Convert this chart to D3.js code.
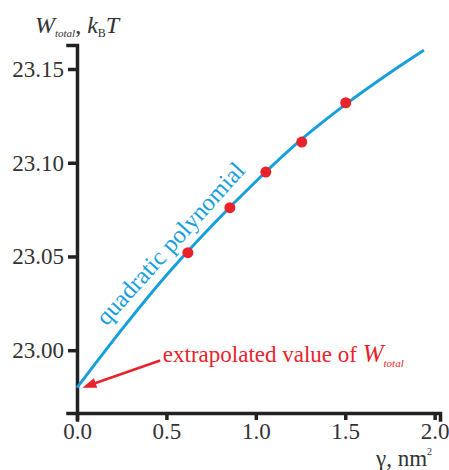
<!DOCTYPE html>
<html>
<head>
<meta charset="utf-8">
<script src="https://cdn.jsdelivr.net/npm/d3@7"></script>
<style>
  body { margin: 0; background: #fff; }
  svg text { font-family: "Liberation Serif", "Times New Roman", serif; }
</style>
</head>
<body>
<div id="chartArea"></div>
<script>
// fitted curve (gamma in nm^2, W in kBT)
const curveX = [0, 0.25, 0.5, 0.75, 1.0, 1.25, 1.5, 1.75, 1.94];
const curveY = [22.980, 23.011, 23.040, 23.066, 23.090, 23.112, 23.131, 23.148, 23.160];

// simulated points
const pointX = [0.62, 0.855, 1.056, 1.257, 1.503];
const pointY = [23.052, 23.076, 23.095, 23.111, 23.132];

const xTicks = [0, 0.5, 1.0, 1.5, 2.0];
const yTicks = [23.00, 23.05, 23.10, 23.15];

const width = 449;
const height = 470;
const blue = "#179fdd";
const red = "#e8232b";

const svg = d3.select("#chartArea")
  .append("svg")
  .attr("width", width)
  .attr("height", height);

const xScale = d3.scaleLinear().domain([0, 2.03]).range([77, 440]);
const yScale = d3.scaleLinear().domain([22.9665, 23.1628]).range([413, 45]);

// Y-axis
const yAxis = svg.append("g")
  .attr("transform", `translate(${xScale(0)},0)`)
  .call(d3.axisLeft(yScale).tickValues(yTicks).tickFormat(d3.format(".2f")).tickSizeOuter(0).tickSize(9).tickPadding(4));

// X-axis
const xAxis = svg.append("g")
  .attr("transform", `translate(0,${yScale.range()[0]})`)
  .call(d3.axisBottom(xScale).tickValues(xTicks).tickFormat(d3.format(".1f")).tickSizeOuter(0).tickSize(7).tickPadding(3));

[yAxis, xAxis].forEach((g) => {
  g.attr("font-family", null).attr("font-size", null);
  g.select(".domain").attr("stroke", "#222").attr("stroke-width", 3.5).attr("stroke-linecap", "square");
  g.selectAll(".tick line").attr("stroke", "#222").attr("stroke-width", 3.5);
  g.selectAll(".tick text")
    .attr("fill", "#333")
    .style("font-family", "'Liberation Serif', serif")
    .style("font-size", "23px");
});

// curve
const curveData = curveX.map((x, i) => ({ x, y: curveY[i] }));
const line = d3.line()
  .x((d) => xScale(d.x))
  .y((d) => yScale(d.y))
  .curve(d3.curveMonotoneX);

svg.append("path")
  .datum(curveData)
  .attr("fill", "none")
  .attr("stroke", blue)
  .attr("stroke-width", 3)
  .attr("d", line);

// points
svg.selectAll(".pt")
  .data(pointX.map((x, i) => ({ x, y: pointY[i] })))
  .join("circle")
  .attr("class", "pt")
  .attr("cx", (d) => xScale(d.x))
  .attr("cy", (d) => yScale(d.y))
  .attr("r", 5.5)
  .attr("fill", red);

// curve label
svg.append("text")
  .attr("transform", `translate(${xScale(0.52)},${yScale(23.057)}) rotate(-48)`)
  .attr("text-anchor", "middle")
  .attr("dominant-baseline", "central")
  .attr("fill", blue)
  .style("font-size", "24.5px")
  .text("quadratic polynomial");

// arrow to extrapolated value
const tipX = xScale(0.03);
const tipY = yScale(curveY[0]);
const tailX = xScale(0.465);
const tailY = yScale(22.9945);
const ang = Math.atan2(tipY - tailY, tipX - tailX);
svg.append("line")
  .attr("x1", tailX).attr("y1", tailY)
  .attr("x2", tipX - 8 * Math.cos(ang)).attr("y2", tipY - 8 * Math.sin(ang))
  .attr("stroke", red)
  .attr("stroke-width", 2.5);
svg.append("path")
  .attr("d", "M0,0 L-14,-5 L-14,5 Z")
  .attr("transform", `translate(${tipX},${tipY}) rotate(${ang * 180 / Math.PI})`)
  .attr("fill", red);

const note = svg.append("text")
  .attr("x", xScale(0.48))
  .attr("y", yScale(22.9936))
  .attr("fill", red)
  .style("font-size", "23px");
note.append("tspan").text("extrapolated value of ");
note.append("tspan").attr("font-style", "italic").style("font-size", "25px").text("W");
note.append("tspan").attr("font-style", "italic").style("font-size", "11px").attr("dy", 5).text("total");

// axis titles
const yTitle = svg.append("text")
  .attr("x", 35)
  .attr("y", 33)
  .attr("fill", "#333")
  .style("font-size", "24px");
yTitle.append("tspan").attr("font-style", "italic").text("W");
yTitle.append("tspan").attr("font-style", "italic").style("font-size", "11px").attr("dy", 4).text("total");
yTitle.append("tspan").attr("dy", -4).text(", ");
yTitle.append("tspan").attr("font-style", "italic").text("k");
yTitle.append("tspan").style("font-size", "12px").attr("dy", 4).text("B");
yTitle.append("tspan").attr("font-style", "italic").attr("dy", -4).text("T");

const xTitle = svg.append("text")
  .attr("x", 376)
  .attr("y", 466)
  .attr("fill", "#333")
  .style("font-size", "23px");
xTitle.append("tspan").text("γ, nm");
xTitle.append("tspan").style("font-size", "10px").attr("dy", -11).text("2");
</script>
</body>
</html>
